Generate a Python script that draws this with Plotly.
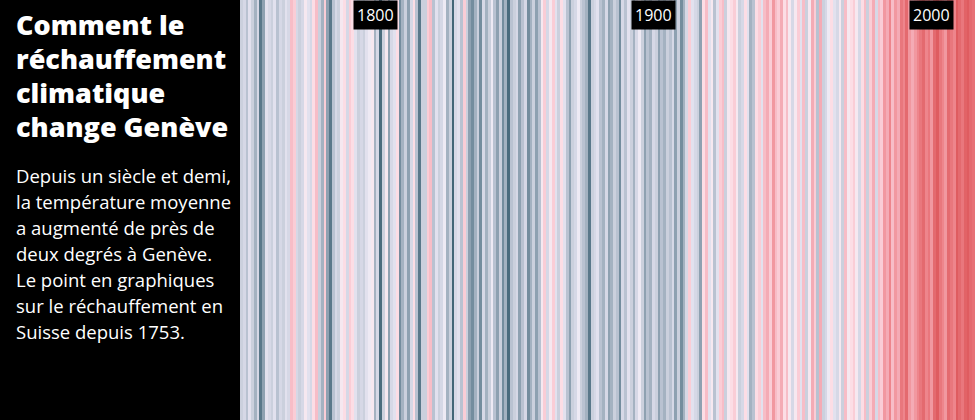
import plotly.graph_objects as go

start_year = 1753
anomalies = [
    -0.3, -0.2, -0.4, -0.1, -0.3, -0.5, -0.2, -0.8, -0.6, -0.1, -0.2, -0.3, -0.1, -0.4, -0.2, -0.3, -0.1, -0.2, 0.4, 0.3, -0.2, -0.3,
    -0.2, 0.1, -0.1, -0.2, 0.2, 0.4, -0.3, -0.5, 0.3, -0.6, -0.8, -0.4, -0.2, -0.3, 0.1, 0.2, -0.2, 0.3, 0.2, -0.1, -0.3, -0.2,
    -0.3, -0.1, 0.0, 0.1, -0.5, -0.2, -0.9, -0.3, 0.1, -0.6, -0.2, -0.1, 0.2, -0.7, -0.5, -0.3, -0.6, -0.2, 0.2, -0.4, -0.8, -0.3,
    -0.3, 0.3, 0.4, -0.4, -0.1, -0.3, -0.2, 0.0, -0.5, -0.3, -0.95, -0.2, -0.1, -0.4, 0.3, -0.3, -0.6, -0.7, -0.5, -0.3, -0.7, -0.2,
    -0.5, -0.3, 0.0, -0.4, -0.6, -0.3, -0.7, -0.5, -0.9, -0.4, -0.3, -0.2, -0.6, -0.4, -0.2, -0.7, -0.5, -0.3, -0.6, -0.4, 0.1, 0.3,
    -0.2, 0.1, 0.3, -0.1, -0.3, 0.2, -0.1, -0.4, -0.6, -0.3, -0.2, 0.0, -0.3, -0.4, -0.5, -0.8, -0.3, -0.2, -0.1, -0.4, -0.5, -0.2,
    -0.6, -0.5, -0.3, -0.4, -0.7, -0.2, -0.4, -0.1, -0.3, -0.5, -0.2, 0.0, -0.3, -0.6, -0.4, -0.5, -0.2, -0.3, -0.6, -0.4, -0.5, -0.3,
    -0.4, -0.2, -0.6, -0.3, -0.7, -0.5, -0.2, 0.3, -0.1, -0.2, -0.3, -0.6, 0.2, 0.4, -0.1, 0.1, -0.4, -0.1, 0.3, 0.4, -0.3, 0.1,
    0.2, 0.3, 0.1, -0.3, -0.2, 0.2, -0.1, -0.5, -0.4, 0.2, 0.3, -0.1, 0.4, 0.5, 0.3, 0.6, 0.4, 0.3, 0.5, 0.2, 0.4, 0.1,
    -0.2, 0.1, 0.3, -0.1, 0.4, -0.3, 0.1, 0.5, 0.3, -0.4, 0.5, -0.3, -0.2, 0.0, 0.2, -0.1, -0.2, 0.1, -0.3, 0.4, 0.1, 0.2,
    0.3, 0.1, -0.2, 0.2, 0.4, -0.3, 0.3, 0.5, -0.2, 0.4, 0.3, 0.6, 0.5, 0.7, 0.4, 0.6, 0.5, 0.8, 0.7, 0.9, 0.6, 0.5,
    0.6, 0.7, 0.8, 0.9, 0.7, 0.8, 0.6, 0.9, 1.0, 0.8, 0.7, 0.6, 0.9, 0.8, 0.7, 1.0, 0.9, 0.8, 0.95, 1.0, 0.9, 0.85,
]
years = [start_year + i for i in range(len(anomalies))]
tick_years = [1800, 1900, 2000]
title_lines = ["Comment le", "réchauffement", "climatique", "change Genève"]
body_lines = [
    "Depuis un siècle et demi,",
    "la température moyenne",
    "a augmenté de près de",
    "deux degrés à Genève.",
    "Le point en graphiques",
    "sur le réchauffement en",
    "Suisse depuis 1753.",
]

W, H = 978, 420
colorscale = [
    [0.0, "#3a5e70"],
    [0.1, "#5a788a"],
    [0.2, "#8ea1b1"],
    [0.33, "#c6ccda"],
    [0.45, "#e2e1ee"],
    [0.52, "#f3eef7"],
    [0.6, "#fcdde5"],
    [0.72, "#f6b6c1"],
    [0.85, "#ee858c"],
    [1.0, "#df5c60"],
]

fig = go.Figure(go.Heatmap(
    x=years, y=[0], z=[anomalies], colorscale=colorscale, zmin=-1, zmax=1,
    showscale=False, hoverinfo="x",
))

fig.update_layout(
    width=W, height=H, margin=dict(l=0, r=0, t=0, b=0),
    paper_bgcolor="white", plot_bgcolor="white",
    xaxis=dict(domain=[240 / W, 975 / W], range=[years[0] - 0.5, years[-1] + 0.5],
               visible=False, fixedrange=True),
    yaxis=dict(domain=[0, 1], range=[-0.5, 0.5], visible=False, fixedrange=True),
    shapes=[dict(type="rect", xref="paper", yref="paper", x0=0, x1=240 / W, y0=0, y1=1,
                 fillcolor="black", line=dict(width=0), layer="below")],
)

for y in tick_years:
    fig.add_annotation(x=y + 1, y=1, xref="x", yref="paper", yanchor="top", text=str(y),
                       showarrow=False, bgcolor="black", borderpad=3,
                       font=dict(family="Open Sans", size=16, color="white"))

for i, line in enumerate(title_lines):
    fig.add_annotation(x=14 / W, y=1 - (24 + 34.3 * i) / H, xref="paper", yref="paper",
                       xanchor="left", yanchor="middle", text=line, showarrow=False,
                       font=dict(family="Open Sans", size=27, weight=800, color="white"))

for i, line in enumerate(body_lines):
    fig.add_annotation(x=14 / W, y=1 - (175 + 26 * i) / H, xref="paper", yref="paper",
                       xanchor="left", yanchor="middle", text=line, showarrow=False,
                       font=dict(family="Open Sans", size=18.5, color="white"))

fig.write_html("out.html")
